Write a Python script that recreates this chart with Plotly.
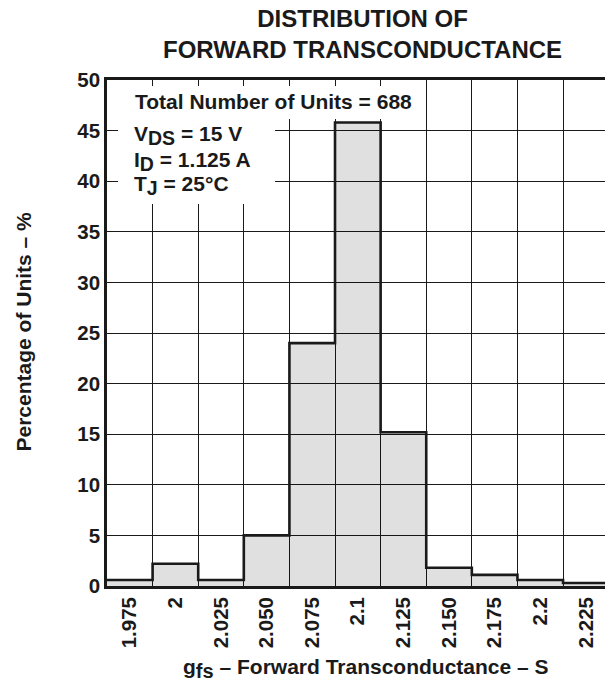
import plotly.graph_objects as go

# ---- data ----
categories = ["1.975", "2", "2.025", "2.050", "2.075", "2.1", "2.125", "2.150", "2.175", "2.2", "2.225"]
percent = [0.6, 2.2, 0.6, 5.0, 24.0, 45.8, 15.2, 1.8, 1.1, 0.6, 0.3]
y_ticks = [0, 5, 10, 15, 20, 25, 30, 35, 40, 45, 50]

title_text = "DISTRIBUTION OF<br>FORWARD TRANSCONDUCTANCE"
x_title = "g<sub><span style=\"font-size:20px\">fs</span></sub> – Forward Transconductance – S"
y_title = "Percentage of Units – %"
info_line1 = "Total Number of Units = 688"
info_lines = [
    "V<sub><span style=\"font-size:19.5px\">DS</span></sub> = 15 V",
    "I<sub><span style=\"font-size:19.5px\">D</span></sub> = 1.125 A",
    "T<sub><span style=\"font-size:19.5px\">J</span></sub> = 25°C",
]

FONT = "Liberation Sans, Arial, sans-serif"
INK = "#1a1a1a"

n = len(categories)
edges = [i - 0.5 for i in range(n + 1)]
step_y = percent + [percent[-1]]

fig = go.Figure()
fig.add_trace(go.Bar(
    x=categories, y=percent,
    marker=dict(color="rgba(0,0,12,0.12)", line=dict(width=0)),
    hoverinfo="skip", showlegend=False,
))
fig.add_trace(go.Scatter(
    x=edges, y=step_y, xaxis="x2", mode="lines",
    line=dict(color=INK, width=2.6, shape="hv"),
    hoverinfo="skip", showlegend=False,
))

W, H = 605, 684
L, R, T, B = 107, 0, 80, 98

def px_x(px):
    return (px - L) / (W - L - R)

def px_y(py):
    return (H - B - py) / (H - T - B)

fig.update_layout(
    width=W, height=H,
    margin=dict(l=L, r=R, t=T, b=B),
    paper_bgcolor="white", plot_bgcolor="white",
    bargap=0,
    font=dict(family=FONT, color=INK, size=20, weight="bold"),
    xaxis=dict(
        type="category", categoryorder="array", categoryarray=categories,
        range=[-0.5, 10.42], tickson="boundaries", ticks="",
        tickangle=-90, showgrid=True, gridcolor=INK, gridwidth=1,
        showline=True, linecolor=INK, linewidth=2.6, mirror=True,
        zeroline=False,
        tickfont=dict(family=FONT, size=20.5, color=INK, weight="bold"),
    ),
    xaxis2=dict(
        overlaying="x", range=[-0.5, 10.42], visible=False,
    ),
    yaxis=dict(
        range=[0, 50], tickvals=y_ticks, ticks="", showgrid=True,
        gridcolor=INK, gridwidth=1, showline=True, linecolor=INK,
        linewidth=2.6, zeroline=False,
        tickfont=dict(family=FONT, size=20.5, color=INK, weight="bold"),
    ),
    shapes=[
        dict(type="rect", xref="paper", yref="paper", layer="above",
             x0=px_x(118), x1=px_x(418), y0=px_y(119), y1=px_y(86),
             fillcolor="white", line=dict(width=0)),
        dict(type="rect", xref="paper", yref="paper", layer="above",
             x0=px_x(118), x1=px_x(275), y0=px_y(204), y1=px_y(119),
             fillcolor="white", line=dict(width=0)),
    ],
)

ann = [
    dict(text=info_line1, x=px_x(133), y=px_y(101.5), xanchor="left", yanchor="middle"),
    dict(text=info_lines[0], x=px_x(132), y=px_y(135), xanchor="left", yanchor="middle"),
    dict(text=info_lines[1], x=px_x(132), y=px_y(161), xanchor="left", yanchor="middle"),
    dict(text=info_lines[2], x=px_x(132), y=px_y(185), xanchor="left", yanchor="middle"),
    dict(text=x_title, x=px_x(365.5), y=px_y(668), xanchor="center", yanchor="middle"),
    dict(text=y_title, x=px_x(23), y=px_y(331.5), xanchor="center", yanchor="middle",
         textangle=-90),
]
for a in ann:
    a.update(xref="paper", yref="paper", showarrow=False,
             font=dict(family=FONT, size=21, color=INK, weight="bold"))
ann.append(dict(
    text=title_text, xref="paper", yref="paper", x=px_x(362), y=px_y(3),
    xanchor="center", yanchor="top", showarrow=False,
    font=dict(family=FONT, size=24, color=INK, weight="bold"),
))
fig.update_layout(annotations=ann)

fig.write_html("out.html", config={"displayModeBar": False},
               post_script="document.body.style.margin='0';")
